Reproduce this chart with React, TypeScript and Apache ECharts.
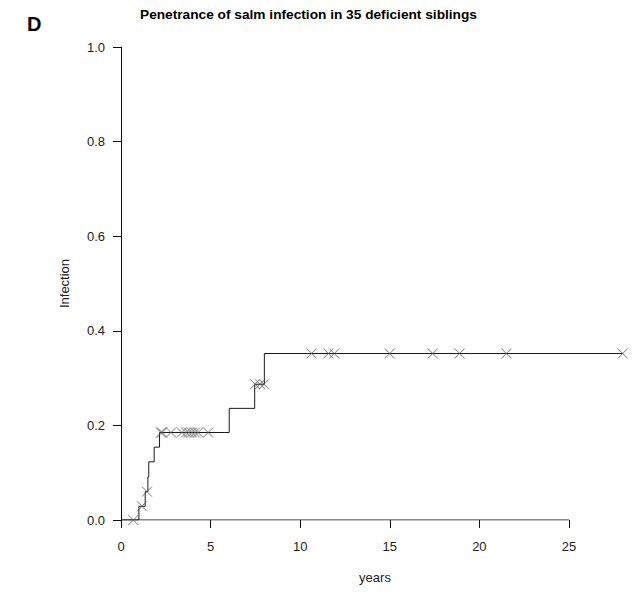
import React, { useEffect, useRef } from "react";
import * as echarts from "echarts";

// Kaplan-Meier style cumulative infection (time in years, cumulative proportion)
const stepTimes = [0, 1.0, 1.35, 1.5, 1.55, 1.85, 2.15, 6.04, 7.46, 8.0, 28.0];
const stepValues = [0, 0.029, 0.060, 0.091, 0.123, 0.154, 0.185, 0.236, 0.287, 0.352, 0.352];

// Censored observations (crosses)
const censorTimes = [
  0.69, 1.17, 1.45,
  2.23, 2.29, 2.79, 3.40, 3.63, 3.79, 3.96, 4.13, 4.30, 4.86,
  7.48, 7.76, 7.98,
  10.64, 11.57, 11.9, 15.0, 17.4, 18.9, 21.5, 28.0,
];
const censorValues = [
  0, 0.029, 0.060,
  0.185, 0.185, 0.185, 0.185, 0.185, 0.185, 0.185, 0.185, 0.185, 0.185,
  0.287, 0.287, 0.287,
  0.352, 0.352, 0.352, 0.352, 0.352, 0.352, 0.352, 0.352,
];

const xTicks = [0, 5, 10, 15, 20, 25];

const titleText = "Penetrance of salm infection in 35 deficient siblings";
const panelLetter = "D";
const xName = "years";
const yName = "Infection";

const FONT = "'Liberation Sans', Arial, sans-serif";

export default function App() {
  const ref = useRef<HTMLDivElement>(null);
  useEffect(() => {
    if (!ref.current) return;
    const chart = echarts.init(ref.current, null, { renderer: "svg" });
    const stepData = stepTimes.map((t, i) => [t, stepValues[i]]);
    const censorData = censorTimes.map((t, i) => [t, censorValues[i]]);
    chart.setOption({
      animation: false,
      backgroundColor: "#ffffff",
      title: {
        text: titleText,
        left: 140,
        top: 7,
        padding: 0,
        textStyle: { fontFamily: FONT, fontSize: 13.7, fontWeight: "bold", color: "#000" },
      },
      graphic: [
        {
          type: "text",
          left: 27,
          top: 14,
          style: { text: panelLetter, font: `bold 20px ${FONT}`, fill: "#000" },
        },
      ],
      grid: { left: 121, top: 47, width: 508, height: 473, containLabel: false },
      xAxis: {
        type: "value",
        min: 0,
        max: 28.35,
        name: xName,
        nameLocation: "middle",
        nameGap: 51,
        nameTextStyle: { fontFamily: FONT, fontSize: 13, color: "#222" },
        axisLine: { show: false },
        axisTick: {
          show: true,
          length: 8,
          customValues: xTicks,
          lineStyle: { color: "#111", width: 1 },
        },
        axisLabel: {
          customValues: xTicks,
          margin: 20,
          fontFamily: FONT,
          fontSize: 13,
          color: "#222",
        },
        splitLine: { show: false },
      },
      yAxis: {
        type: "value",
        min: 0,
        max: 1,
        interval: 0.2,
        name: yName,
        nameLocation: "middle",
        nameRotate: 90,
        nameGap: 50,
        nameTextStyle: { fontFamily: FONT, fontSize: 13, color: "#222" },
        axisLine: { show: true, lineStyle: { color: "#111", width: 1 } },
        axisTick: { show: true, length: 8, lineStyle: { color: "#111", width: 1 } },
        axisLabel: {
          margin: 16,
          fontFamily: FONT,
          fontSize: 13,
          color: "#222",
          formatter: (v: number) => v.toFixed(1),
        },
        splitLine: { show: false },
      },
      series: [
        {
          name: "axis",
          type: "line",
          data: [[xTicks[0], 0], [xTicks[xTicks.length - 1], 0]],
          showSymbol: false,
          silent: true,
          lineStyle: { color: "#111", width: 1 },
          z: 1,
        },
        {
          name: "infection",
          type: "line",
          step: "end",
          data: stepData,
          showSymbol: false,
          lineStyle: { color: "#1a1a1a", width: 1 },
          z: 3,
        },
        {
          name: "censored",
          type: "scatter",
          data: censorData,
          symbol: "path://M0,0L10,10M10,0L0,10",
          symbolSize: 10,
          itemStyle: { color: "rgba(0,0,0,0)", borderColor: "#555", borderWidth: 1 },
          z: 4,
        },
      ],
    });
    return () => chart.dispose();
  }, []);
  return (
    <div
      ref={ref}
      style={{ position: "absolute", left: 0, top: 0, width: 636, height: 592 }}
    />
  );
}
